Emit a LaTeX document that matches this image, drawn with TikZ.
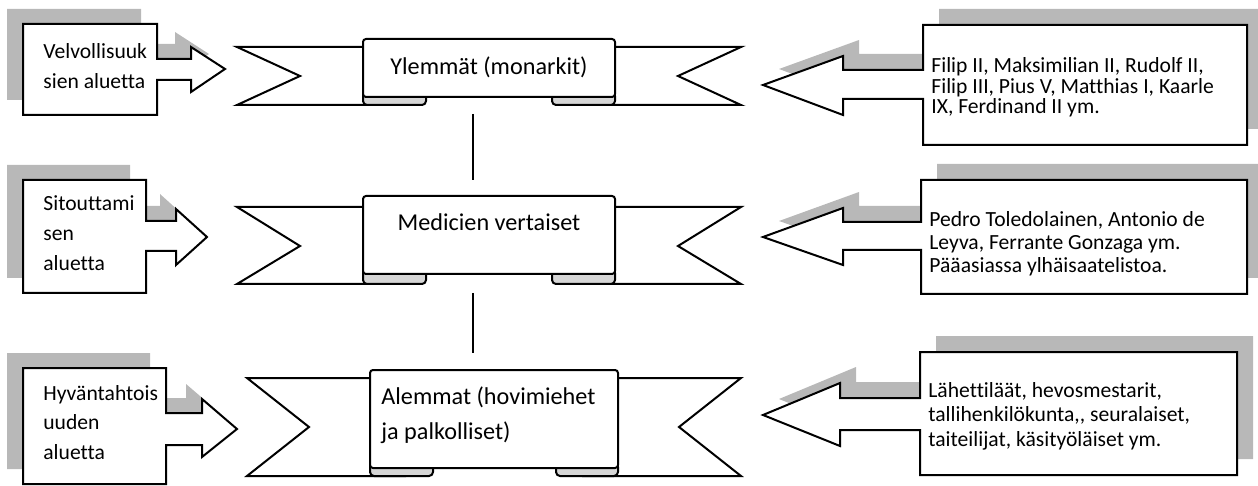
\documentclass[tikz,border=0pt]{standalone}
\usepackage{fontspec}
\setmainfont{Carlito}[Ligatures=NoCommon]
\usetikzlibrary{shadows}

\definecolor{varjo}{gray}{0.72}
\definecolor{taite}{gray}{0.84}
\setlength{\lineskiplimit}{-5pt}

\begin{document}
\begin{tikzpicture}[x=0.5pt, y=-0.5pt,
    lineout/.style={draw=black, line width=1pt, line join=miter},
    callleft/.style={lineout, fill=white,
      drop shadow={shadow xshift=-8pt, shadow yshift=7.5pt, fill=varjo, opacity=1, draw=none}},
    callright/.style={lineout, fill=white,
      drop shadow={shadow xshift=8pt, shadow yshift=8pt, fill=varjo, opacity=1, draw=none}},
    ribbonband/.style={lineout, fill=white},
    ribbonfold/.style={lineout, fill=taite, rounded corners=2pt},
    ribbonpanel/.style={lineout, fill=white, rounded corners=1.5pt},
    ribbontext/.style={inner sep=0pt, font=\fontsize{12.1}{17.5}\selectfont},
    boxtext/.style={anchor=north west, inner sep=0pt, align=left},
    linkline/.style={draw=black, line width=0.8pt}]

    \clip (0,0) rectangle (1258,486);

    % Step 1: left callouts (box with arrow to the right)
    \draw[callleft] (23,24) -- (157,24) -- (157,59) -- (191,59) -- (191,47) -- (225,69)
        -- (191,92) -- (191,80) -- (157,80) -- (157,115) -- (23,115) -- cycle;
    \draw[callleft] (23,180) -- (146,180) -- (146,221) -- (176,221) -- (176,209) -- (207,237)
        -- (176,265) -- (176,251) -- (146,251) -- (146,293) -- (23,293) -- cycle;
    \draw[callleft] (23,368) -- (166,368) -- (166,413) -- (202,413) -- (202,399) -- (237,429)
        -- (202,457) -- (202,445) -- (166,445) -- (166,484) -- (23,484) -- cycle;

    \node[boxtext, font=\fontsize{10.8}{15}\selectfont] (velvo) at (43,43) {Velvollisuuk\\sien aluetta};
    \node[boxtext, font=\fontsize{10.8}{15}\selectfont] (sitou) at (43,195) {Sitouttami\\sen\\aluetta};
    \node[boxtext, font=\fontsize{10.8}{14.75}\selectfont] (hyvan) at (43,385) {Hyväntahtois\\uuden\\aluetta};

    % Step 2: right callouts (box with arrow to the left)
    \draw[callright] (1247,25) -- (923,25) -- (923,70) -- (843,70) -- (843,56) -- (763,85)
        -- (843,115) -- (843,99) -- (923,99) -- (923,145) -- (1247,145) -- cycle;
    \draw[callright] (1247,180) -- (921,180) -- (921,222) -- (843,222) -- (843,208) -- (763,237)
        -- (843,265) -- (843,250) -- (921,250) -- (921,294) -- (1247,294) -- cycle;
    \draw[callright] (1237,352) -- (920,352) -- (920,398) -- (840,398) -- (840,383) -- (763,415)
        -- (840,446) -- (840,430) -- (920,430) -- (920,475) -- (1237,475) -- cycle;

    \node[boxtext, font=\fontsize{10.8}{10.4}\selectfont] (filip) at (931,57)
        {Filip II, Maksimilian II, Rudolf II,\\Filip III, Pius V, Matthias I, Kaarle\\IX, Ferdinand II ym.};
    \node[boxtext, font=\fontsize{10.8}{11.5}\selectfont] (pedro) at (929,211)
        {Pedro Toledolainen, Antonio de\\Leyva, Ferrante Gonzaga ym.\\Pääasiassa ylhäisaatelistoa.};
    \node[boxtext, font=\fontsize{10.8}{12.25}\selectfont] (lahet) at (928,382)
        {Lähettiläät, hevosmestarit,\\tallihenkilökunta,{}, seuralaiset,\\taiteilijat, käsityöläiset ym.};

    % Step 3: ribbon 1
    \draw[ribbonband] (237,47) -- (400,47) -- (400,105) -- (237,105) -- (300,76) -- cycle;
    \draw[ribbonband] (741,47) -- (578,47) -- (578,105) -- (741,105) -- (678,76) -- cycle;
    \draw[ribbonfold] (363,92) rectangle (426,105);
    \draw[ribbonfold] (552,92) rectangle (615,105);
    \draw[ribbonpanel] (363,39) rectangle (615,97);
    \node[ribbontext] (ylemmat) at (489,67) {Ylemmät (monarkit)};

    % Step 4: ribbon 2
    \draw[ribbonband] (237,207) -- (400,207) -- (400,284) -- (237,284) -- (300,246) -- cycle;
    \draw[ribbonband] (741,207) -- (578,207) -- (578,284) -- (741,284) -- (678,246) -- cycle;
    \draw[ribbonfold] (363,269) rectangle (426,284);
    \draw[ribbonfold] (552,269) rectangle (615,284);
    \draw[ribbonpanel] (363,196) rectangle (615,274);
    \node[ribbontext] (medici) at (489,222) {Medicien vertaiset};

    % Step 5: ribbon 3
    \draw[ribbonband] (247,378) -- (405,378) -- (405,476) -- (247,476) -- (309,427) -- cycle;
    \draw[ribbonband] (741,378) -- (583,378) -- (583,476) -- (741,476) -- (679,427) -- cycle;
    \draw[ribbonfold] (370,463) rectangle (433,476);
    \draw[ribbonfold] (556,463) rectangle (618,476);
    \draw[ribbonpanel] (370,370) rectangle (618,468);
    \node[ribbontext, anchor=north west, align=left] (alemmat) at (381,386)
        {Alemmat (hovimiehet\\ja palkolliset)};

    % Step 6: connecting lines between ribbons
    \coordinate (yla) at (473,114);
    \coordinate (ylb) at (473,180);
    \coordinate (ala) at (473,293);
    \coordinate (alb) at (473,353);
    \draw[linkline] (yla) -- (ylb);
    \draw[linkline] (ala) -- (alb);
\end{tikzpicture}
\end{document}
